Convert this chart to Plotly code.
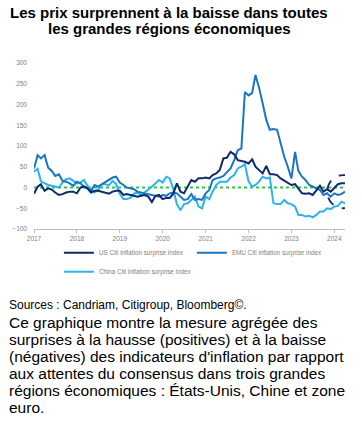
import pandas as pd
import plotly.graph_objects as go

months = pd.date_range("2017-01-01", periods=88, freq="MS")

us = [-15, 2, 8, -8, -2, -5, -12, -18, -16, -12, -10, -10,
      -14, 0, 3, -2, -12, -8, -8, -10, -12, -15, -10, -8,
      -8, -18, -16, -18, -20, -22, -20, -18, -22, -35, -20, -18,
      -28, -25, -25, -15, 10, -10, -14, 2, 18, 14, 22, 22,
      24, 22, 30, 34, 42, 70, 72, 86, 80, 66, 64, 62,
      58, 68, 50, 42, 34, 52, 32, 32, 30, 22, 16, 10,
      6, 8, -2, -14, -15, -14, -18, -8, 4, -10, -4, -10,
      -2, 8, 10, 10]

emu = [46, 78, 70, 78, 48, 40, 28, 32, 16, 14, 10, 4,
       14, 10, 2, -2, -8, 6, 2, 8, 12, 20, 24, 26,
       12, 6, 0, -2, -4, -10, -12, -14, -16, -18, -20, -22,
       -18, -20, -14, -12, -14, -22, -30, -28, -16, -30, -28, -30,
       -14, -6, 18, 22, 24, 28, 36, 46, 66, 90, 94, 230,
       222, 228, 271, 240, 203, 163, 139, 141, 139, 106, 74, 50,
       22, 86, 40, 26, 18, 6, 2, -2, -6, -18, -14, -22,
       -14, -18, -16, -10]

china = [38, 45, 15, 10, 6, 4, 2, 0, 12, 20, 22, 15,
         10, 12, 18, 4, -5, -12, -5, 8, 8, 5, 16, 8,
         -15, -28, -28, -25, -15, -12, -18, -12, -5, 2, 10, 18,
         12, 26, 22, -5, -40, -55, -40, -38, -30, -22, -46, -50,
         -22, -28, -10, 6, 14, 14, 14, 24, 30, 46, 50, 56,
         15, 2, 6, 14, 26, 22, 24, -38, -40, -40, -30, -38,
         -40, -46, -66, -66, -70, -68, -72, -66, -58, -58, -50, -52,
         -46, -44, -34, -38]

names = ["US Citi inflation surprise index",
         "EMU Citi inflation surprise index",
         "China Citi inflation surprise index"]

y_ticks = [-100, -50, 0, 50, 100, 150, 200, 250, 300]
x_ticks = [f"{y}-01-01" for y in range(2017, 2025)]
x_labels = [str(y) for y in range(2017, 2025)]

NAVY = "#0E2A6B"
MID = "#1C75BF"
LIGHT = "#2BB3EE"
GREY = "#7F7F7F"

fig = go.Figure()
fig.add_trace(go.Scatter(x=months, y=china, name=names[2], mode="lines",
                         line=dict(color=LIGHT, width=2), legendrank=3))
fig.add_trace(go.Scatter(x=months, y=emu, name=names[1], mode="lines",
                         line=dict(color=MID, width=2), legendrank=2))
fig.add_trace(go.Scatter(x=months, y=us, name=names[0], mode="lines",
                         line=dict(color=NAVY, width=2), legendrank=1))

# zero reference dotted line
fig.add_shape(type="line", xref="paper", x0=0, x1=1, yref="y", y0=0, y1=0,
              line=dict(color="#2DC84D", width=2, dash="dot"), layer="below")
# dashed highlight ellipse at the end
fig.add_shape(type="circle", xref="x", yref="y",
              x0="2023-11-01", x1="2024-08-01", y0=-50, y1=30,
              line=dict(color=NAVY, width=1.8, dash="dash"))

fig.update_layout(
    width=362, height=426,
    margin=dict(l=32, r=17, t=63, b=197),
    paper_bgcolor="white", plot_bgcolor="white",
    font=dict(family="Liberation Sans, Arial, sans-serif", color=GREY),
    showlegend=True,
    legend=dict(orientation="h", x=0.08, xanchor="left",
                y=-0.055, yanchor="top",
                font=dict(size=6.3, color=GREY), entrywidth=88, entrywidthmode="pixels",
                tracegroupgap=0, itemwidth=30, bgcolor="rgba(0,0,0,0)"),
    xaxis=dict(type="date", range=["2017-01-01", "2024-04-01"],
               tickvals=x_ticks, ticktext=x_labels, showgrid=False,
               showline=True, linecolor="#BFBFBF", linewidth=1,
               ticks="outside", ticklen=3, tickcolor="#BFBFBF",
               tickfont=dict(size=6.5, color=GREY), zeroline=False),
    yaxis=dict(range=[-100, 300], tickvals=y_ticks, showgrid=False,
               showline=False, zeroline=False, ticks="",
               tickfont=dict(size=6.5, color=GREY), ticklabelstandoff=6),
)


def py(ypx):
    return (229 - ypx) / 166.0


def px(xpx):
    return (xpx - 32) / 313.0


title_lines = ["<b>Les prix surprennent à la baisse dans toutes</b>",
               "<b>les grandes régions économiques</b>"]
for i, t in enumerate(title_lines):
    fig.add_annotation(text=t, xref="paper", yref="paper", x=px(168), y=py(12.5 + 16 * i),
                       xanchor="center", yanchor="middle", showarrow=False,
                       font=dict(size=15, color="black"))

src = "Sources : Candriam, Citigroup, Bloomberg©."
para = ["Ce graphique montre la mesure agrégée des",
        "surprises à la hausse (positives) et à la baisse",
        "(négatives) des indicateurs d'inflation par rapport",
        "aux attentes du consensus dans trois grandes",
        "régions économiques : États-Unis, Chine et zone",
        "euro."]

fig.add_annotation(text=src, xref="paper", yref="paper", x=px(5), y=py(305),
                   xanchor="left", yanchor="middle", showarrow=False,
                   font=dict(size=12, color="black"))
for i, line in enumerate(para):
    fig.add_annotation(text=line, xref="paper", yref="paper", x=px(5),
                       y=py(322 + i * 17.1), xanchor="left", yanchor="middle",
                       showarrow=False, font=dict(size=15.5, color="black"))

fig.write_html("out.html", config={"displayModeBar": False},
               post_script="document.body.style.margin='0px';")
